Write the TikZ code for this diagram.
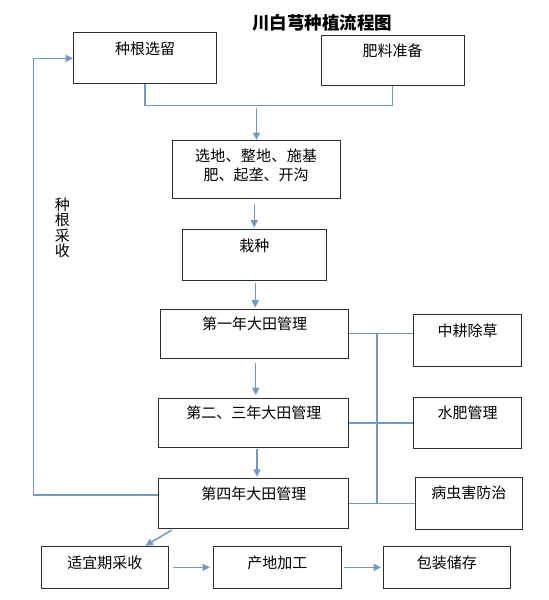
\documentclass[tikz,border=0pt]{standalone}
\usepackage{fontspec}
\setmainfont{Noto Sans CJK SC}
\usetikzlibrary{arrows.meta,calc}
\definecolor{lnblue}{RGB}{112,152,200}
\definecolor{boxgray}{RGB}{45,45,45}
\tikzset{
  box/.style={draw=boxgray, line width=1.1pt, inner xsep=0pt, inner ysep=0pt, anchor=north west, font=\fontsize{15}{19.3}\selectfont},
  conn/.style={draw=lnblue, line width=1.5pt},
  arr/.style={conn, -{Triangle[length=7.5pt,width=7pt]}},
}
\begin{document}
\begin{tikzpicture}[x=1pt,y=-1pt]
\useasboundingbox (0,0) rectangle (549,600);
% title
\node[font=\fontsize{17.5}{20}\selectfont\bfseries] (title) at (322,22.5) {川白芎种植流程图};
% boxes
\node[box, minimum width=143pt, text height=21.7pt, text depth=28.8pt] (zg) at (73,32.3) {种根选留};
\node[box, minimum width=143pt, text height=21.9pt, text depth=28.1pt] (fl) at (320.5,34.5) {肥料准备};
\node[box, minimum width=168pt, text height=20.7pt, text depth=36.8pt] (xd) at (171.5,140) {\begin{tabular}[t]{@{}c@{}}\makebox[122pt][s]{选\hfil 地\hfil 、\hfil 整\hfil 地\hfil 、\hfil 施\hfil 基}\\ 肥、起垄、开沟\end{tabular}};
\node[box, minimum width=143.5pt, text height=21.7pt, text depth=28.8pt] (zz) at (182,229) {栽种};
\node[box, minimum width=188.3pt, text height=20.5pt, text depth=28.7pt] (y1) at (160,308.5) {第一年大田管理};
\node[box, minimum width=190pt, text height=20.7pt, text depth=28.9pt] (y23) at (158.3,397.7) {第二、三年大田管理};
\node[box, minimum width=190pt, text height=20.7pt, text depth=28.7pt] (y4) at (158.3,478.3) {第四年大田管理};
\node[box, minimum width=107.7pt, text height=21.4pt, text depth=30.6pt] (zgcc) at (413.3,314.3) {中耕除草};
\node[box, minimum width=107.7pt, text height=21.7pt, text depth=29.9pt] (sf) at (413.3,396.7) {水肥管理};
\node[box, minimum width=107.3pt, text height=21.7pt, text depth=30.6pt] (bc) at (414.7,476.7) {病虫害防治};
\node[box, minimum width=127.3pt, text height=22.7pt, text depth=19.6pt] (cs) at (40.7,545.7) {适宜期采收};
\node[box, minimum width=127.7pt, text height=22.7pt, text depth=19.6pt] (jg) at (213,545.7) {产地加工};
\node[box, minimum width=127.3pt, text height=22.7pt, text depth=19.6pt] (bz) at (382.7,545.7) {包装储存};
% side label
\node[align=center, font=\fontsize{15}{15.5}\selectfont, inner sep=0pt] (lbl) at (62.3,228) {种\\根\\采\\收};
% connectors
\coordinate (j1) at (256.5,105.7);
\draw[conn] (zg.south) |- (j1) -| (fl.south);
\draw[arr, shorten <=2.5pt] (j1) -- (j1 |- xd.north);
\coordinate (c2) at (254.3,0);
\draw[arr, shorten <=5pt, shorten >=1.5pt] (c2 |- xd.south) -- (c2 |- zz.north);
\coordinate (c3) at (255.3,0);
\draw[arr, shorten <=2.2pt, shorten >=0.8pt] (c3 |- zz.south) -- (c3 |- y1.north);
\coordinate (c4) at (255.7,0);
\draw[arr, shorten <=4pt, shorten >=2.5pt] (c4 |- y1.south) -- (c4 |- y23.north);
\coordinate (c5) at (257,0);
\draw[arr, shorten <=0.5pt, shorten >=1.5pt] (c5 |- y23.south) -- (c5 |- y4.north);
% right bus
\coordinate (bus) at (377,0);
\draw[conn] (y1.east) -- (y1.east -| zgcc.west);
\draw[conn] (y23.east) -- (y23.east -| sf.west);
\draw[conn] (y4.east) -- (y4.east -| bc.west);
\draw[conn] (bus |- y1.east) -- (bus |- y4.east);
% loop back
\coordinate (lp) at (33.3,58.3);
\draw[arr] ($(y4.north west)+(0,16.7)$) -| (lp) -- (zg.west |- lp);
% bottom
\draw[arr] ($(y4.south west)+(13.4,1.3)$) -- ($(cs.north east)+(-23.7,0)$);
\draw[arr, shorten <=3.7pt, shorten >=3pt] (cs.east) -- (jg.west);
\draw[arr, shorten <=2.6pt, shorten >=1.7pt] (jg.east) -- (bz.west);
\end{tikzpicture}
\end{document}
